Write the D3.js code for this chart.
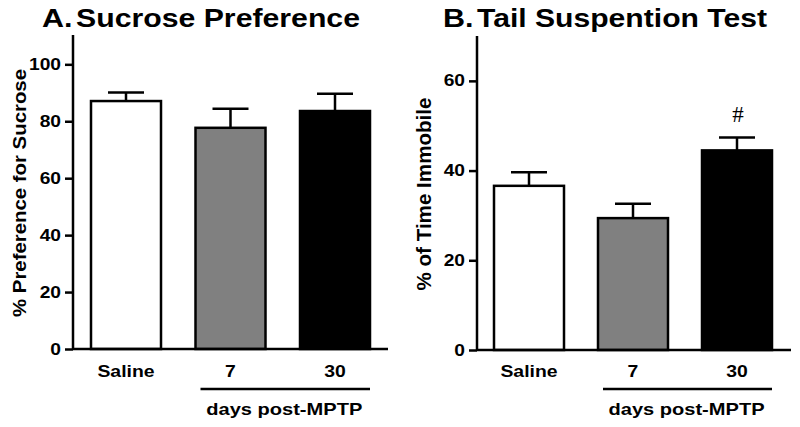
<!DOCTYPE html>
<html>
<head>
<meta charset="utf-8">
<script src="https://cdn.jsdelivr.net/npm/d3@7"></script>
<style>
  body { margin: 0; background: #fff; }
  svg { display: block; font-family: "Liberation Sans", Arial, sans-serif; }
</style>
</head>
<body>
<svg id="chart" width="800" height="427"></svg>
<script>
// Groups and values
const groups = ["Saline", "7", "30"];
const fills = ["#ffffff", "#808080", "#000000"];

const sucroseMean = [87.1, 77.7, 83.6];
const sucroseSem = [3.0, 6.7, 6.1];
const sucroseTicks = [0, 20, 40, 60, 80, 100];

const tstMean = [36.6, 29.4, 44.5];
const tstSem = [3.0, 3.2, 2.9];
const tstTicks = [0, 20, 40, 60];
const tstMarks = ["", "", "#"];

const svg = d3.select('#chart');

// stretch text horizontally (the figure's lettering is wider than Arial)
function stretch(sel, sx) {
  sel.each(function() {
    const w = this.getComputedTextLength();
    d3.select(this).attr('textLength', w * sx).attr('lengthAdjust', 'spacingAndGlyphs');
  });
  return sel;
}

const panels = [
  {
    letter: "A.", title: "Sucrose Preference", ylabel: "% Preference for Sucrose",
    mean: sucroseMean, sem: sucroseSem, ticks: sucroseTicks, marks: ["", "", ""],
    x0: 73, x1: 388, yTop: 35, yZero: 349, yMax: 110.3,
    barStart: 91, barWidth: 70, step: 104.5,
    letterX: 42, titleX: 76, titleW: 284, ylabX: 26, ylabY: 193, ylabW: 248, ylabSize: 18.5
  },
  {
    letter: "B.", title: "Tail Suspention Test", ylabel: "% of Time Immobile",
    mean: tstMean, sem: tstSem, ticks: tstTicks, marks: tstMarks,
    x0: 477, x1: 791, yTop: 36, yZero: 350, yMax: 70,
    barStart: 494, barWidth: 70, step: 104,
    letterX: 443, titleX: 477, titleW: 290, ylabX: 431, ylabY: 194, ylabW: 193, ylabSize: 19.5
  }
];

panels.forEach(p => {
  const g = svg.append('g');

  const y = d3.scaleLinear().domain([0, p.yMax]).range([p.yZero, p.yTop]);
  const x = d3.scaleBand().domain(groups)
    .range([p.barStart, p.barStart + p.step * 2 + p.barWidth])
    .paddingInner((p.step - p.barWidth) / p.step)
    .paddingOuter(0);

  // title
  const lt = g.append('text').attr('x', p.letterX).attr('y', 27)
    .attr('font-size', 25).attr('font-weight', 700).text(p.letter);
  stretch(lt, 1.22);
  g.append('text').attr('x', p.titleX).attr('y', 27)
    .attr('font-size', 25).attr('font-weight', 700).text(p.title)
    .attr('textLength', p.titleW).attr('lengthAdjust', 'spacingAndGlyphs');

  // y axis
  const yAxis = d3.axisLeft(y).tickValues(p.ticks).tickSize(8).tickPadding(4).tickSizeOuter(0);
  const ya = g.append('g').attr('transform', `translate(${p.x0},0)`).call(yAxis);
  ya.select('.domain').remove();
  ya.selectAll('.tick line').attr('stroke', '#000').attr('stroke-width', 2.5);
  ya.selectAll('.tick text').attr('font-size', 16).attr('font-weight', 700)
    .attr('fill', '#000').attr('font-family', '"Liberation Sans", Arial, sans-serif');
  stretch(ya.selectAll('.tick text'), 1.2);
  g.append('line').attr('x1', p.x0).attr('x2', p.x0).attr('y1', p.yTop).attr('y2', p.yZero + 1)
    .attr('stroke', '#000').attr('stroke-width', 2.5);

  // bars
  const bw = x.bandwidth();
  groups.forEach((k, i) => {
    const cx = x(k) + bw / 2;
    // error bar (upper only)
    g.append('line').attr('x1', cx).attr('x2', cx)
      .attr('y1', y(p.mean[i])).attr('y2', y(p.mean[i] + p.sem[i]))
      .attr('stroke', '#000').attr('stroke-width', 2.5);
    g.append('line').attr('x1', cx - 18).attr('x2', cx + 18)
      .attr('y1', y(p.mean[i] + p.sem[i])).attr('y2', y(p.mean[i] + p.sem[i]))
      .attr('stroke', '#000').attr('stroke-width', 2.5);
    g.append('rect').attr('x', x(k)).attr('width', bw)
      .attr('y', y(p.mean[i])).attr('height', y(0) - y(p.mean[i]))
      .attr('fill', fills[i]).attr('stroke', '#000').attr('stroke-width', 2.5);
    if (p.marks[i]) {
      g.append('text').attr('x', cx + 1).attr('y', y(p.mean[i] + p.sem[i]) - 15)
        .attr('text-anchor', 'middle').attr('font-size', 23)
        .attr('font-family', '"Liberation Serif", serif').text(p.marks[i]);
    }
    const xl = g.append('text').attr('x', cx).attr('y', 377).attr('text-anchor', 'middle')
      .attr('font-size', 17).attr('font-weight', 700).text(k);
    stretch(xl, 1.14);
  });

  // x axis baseline
  g.append('line').attr('x1', p.x0).attr('x2', p.x1).attr('y1', p.yZero).attr('y2', p.yZero)
    .attr('stroke', '#000').attr('stroke-width', 2.5);

  // days post-MPTP bracket
  const bx0 = x("7") + 5, bx1 = x("30") + bw;
  g.append('line').attr('x1', bx0).attr('x2', bx1).attr('y1', 389).attr('y2', 389)
    .attr('stroke', '#000').attr('stroke-width', 2.5);
  const dl = g.append('text').attr('x', (bx0 + bx1) / 2 - 1).attr('y', 415).attr('text-anchor', 'middle')
    .attr('font-size', 17).attr('font-weight', 700).text('days post-MPTP');
  stretch(dl, 1.18);

  // y label
  g.append('text').attr('transform', `translate(${p.ylabX},${p.ylabY}) rotate(-90)`)
    .attr('text-anchor', 'middle').attr('font-size', p.ylabSize).attr('font-weight', 700)
    .text(p.ylabel)
    .attr('textLength', p.ylabW).attr('lengthAdjust', 'spacingAndGlyphs');
});
</script>
</body>
</html>
